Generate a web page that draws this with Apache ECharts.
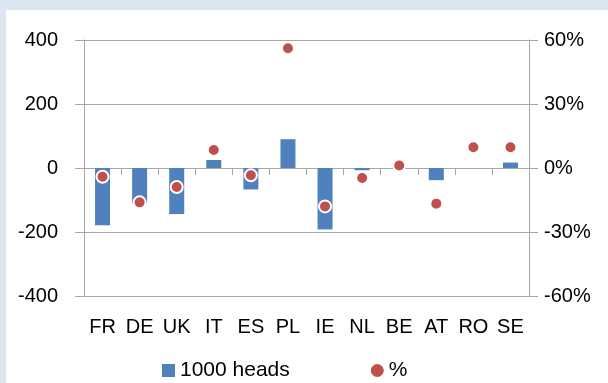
<!DOCTYPE html>
<html><head><meta charset="utf-8">
<script src="https://cdn.jsdelivr.net/npm/echarts@6/dist/echarts.min.js"></script>
<style>html,body{margin:0;padding:0;background:#dce6f2;}#c{width:608px;height:383px;}</style>
</head><body><div id="c"></div>
<script>
var categories = ['FR','DE','UK','IT','ES','PL','IE','NL','BE','AT','RO','SE'];
var heads = [-179, -110, -144, 25, -67, 90, -192, -7, 0, -38, 0, 17];
var pct = [-4.1, -16.1, -8.9, 8.4, -3.4, 56.1, -18.0, -4.7, 1.2, -16.7, 9.7, 9.7];
var leftTicks = {min: -400, max: 400, interval: 200};
var rightTicks = {min: -60, max: 60, interval: 30};

var chart = echarts.init(document.getElementById('c'));
var font = 'Liberation Sans';
var gridColor = '#a6a6a6';
chart.setOption({
  backgroundColor: '#dce6f2',
  animation: false,
  graphic: [{type: 'rect', shape: {x: 6, y: 10, width: 602, height: 373}, style: {fill: '#ffffff'}, z: -10}],
  grid: {left: 84, right: 79, top: 40, bottom: 87, containLabel: false},
  legend: {
    left: 157, top: 355, itemGap: 81, itemWidth: 13, itemHeight: 13,
    textStyle: {fontFamily: font, fontSize: 21, color: '#000'},
    data: [{name: '1000 heads', icon: 'rect'}, {name: '%', icon: 'circle', itemStyle: {borderWidth: 0}}]
  },
  xAxis: [{
    type: 'category', data: categories,
    axisLine: {show: true, onZero: true, lineStyle: {color: gridColor, width: 1}},
    axisTick: {show: true, interval: 0, length: 7, lineStyle: {color: gridColor}},
    axisLabel: {show: false}, splitLine: {show: false}
  }, {
    type: 'category', data: categories, position: 'bottom',
    axisLine: {show: false}, axisTick: {show: false},
    axisLabel: {show: true, interval: 0, fontFamily: font, fontSize: 20, color: '#000', margin: 21}
  }],
  yAxis: [{
    type: 'value', min: leftTicks.min, max: leftTicks.max, interval: leftTicks.interval,
    axisLine: {show: true, lineStyle: {color: gridColor}},
    axisTick: {show: true, length: 9, lineStyle: {color: gridColor}},
    splitLine: {show: true, lineStyle: {color: gridColor}},
    axisLabel: {fontFamily: font, fontSize: 20, color: '#000', margin: 26}
  }, {
    type: 'value', min: rightTicks.min, max: rightTicks.max, interval: rightTicks.interval,
    axisLine: {show: true, lineStyle: {color: gridColor}},
    axisTick: {show: true, length: 9, lineStyle: {color: gridColor}},
    splitLine: {show: false},
    axisLabel: {formatter: '{value}%', fontFamily: font, fontSize: 20, color: '#000', margin: 15}
  }],
  series: [{
    name: '1000 heads', type: 'bar', data: heads, xAxisIndex: 0, yAxisIndex: 0,
    barWidth: 15, itemStyle: {color: '#4f81bd'}
  }, {
    name: '%', type: 'scatter', data: pct, xAxisIndex: 0, yAxisIndex: 1,
    symbol: 'circle', symbolSize: 12,
    itemStyle: {color: '#c0504d', borderColor: '#ffffff', borderWidth: 2, opacity: 1}
  }]
});
</script></body></html>
